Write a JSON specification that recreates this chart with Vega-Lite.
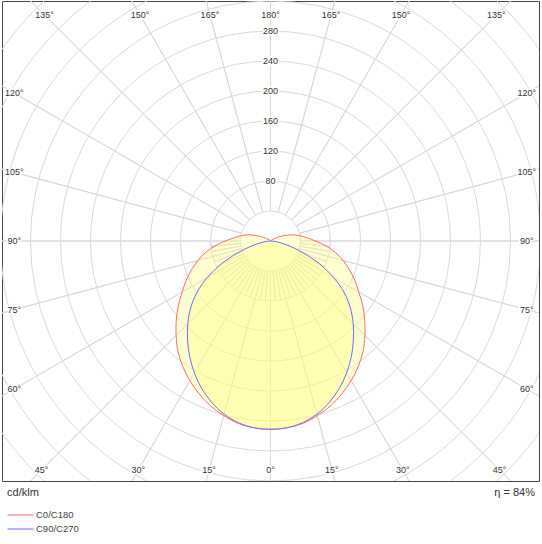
{
  "$schema": "https://vega.github.io/schema/vega-lite/v6.json",
  "width": 537,
  "height": 480,
  "autosize": {"type": "none"},
  "padding": {"left": 2, "top": 1, "right": 3, "bottom": 63},
  "background": "white",
  "config": {
    "view": {"stroke": "#444444", "strokeWidth": 1},
    "text": {"font": "Liberation Sans", "color": "#333333"}
  },
  "datasets": {
    "rings": [
      {"r": 40}, {"r": 80}, {"r": 120}, {"r": 160}, {"r": 200}, {"r": 240},
      {"r": 280}, {"r": 320}, {"r": 360}, {"r": 400}, {"r": 440}, {"r": 480}
    ],
    "spokes": [
      {"a": 0, "r0": 40, "r1": 480},
      {"a": 15, "r0": 40, "r1": 480},
      {"a": 30, "r0": 40, "r1": 480},
      {"a": 45, "r0": 40, "r1": 480},
      {"a": 60, "r0": 40, "r1": 480},
      {"a": 75, "r0": 40, "r1": 480},
      {"a": 90, "r0": 40, "r1": 480}, {"a": 95, "r0": 40, "r1": 80}, {"a": 100, "r0": 40, "r1": 80},
      {"a": 105, "r0": 40, "r1": 480}, {"a": 110, "r0": 40, "r1": 80}, {"a": 115, "r0": 40, "r1": 80},
      {"a": 120, "r0": 40, "r1": 480}, {"a": 125, "r0": 40, "r1": 80}, {"a": 130, "r0": 40, "r1": 80},
      {"a": 135, "r0": 40, "r1": 480}, {"a": 140, "r0": 40, "r1": 80}, {"a": 145, "r0": 40, "r1": 80},
      {"a": 150, "r0": 40, "r1": 480}, {"a": 155, "r0": 40, "r1": 80}, {"a": 160, "r0": 40, "r1": 80},
      {"a": 165, "r0": 40, "r1": 480}, {"a": 170, "r0": 40, "r1": 80}, {"a": 175, "r0": 40, "r1": 80},
      {"a": 180, "r0": 40, "r1": 480}, {"a": 185, "r0": 40, "r1": 80}, {"a": 190, "r0": 40, "r1": 80},
      {"a": 195, "r0": 40, "r1": 480}, {"a": 200, "r0": 40, "r1": 80}, {"a": 205, "r0": 40, "r1": 80},
      {"a": 210, "r0": 40, "r1": 480}, {"a": 215, "r0": 40, "r1": 80}, {"a": 220, "r0": 40, "r1": 80},
      {"a": 225, "r0": 40, "r1": 480}, {"a": 230, "r0": 40, "r1": 80}, {"a": 235, "r0": 40, "r1": 80},
      {"a": 240, "r0": 40, "r1": 480}, {"a": 245, "r0": 40, "r1": 80}, {"a": 250, "r0": 40, "r1": 80},
      {"a": 255, "r0": 40, "r1": 480}, {"a": 260, "r0": 40, "r1": 80}, {"a": 265, "r0": 40, "r1": 80},
      {"a": 270, "r0": 40, "r1": 480},
      {"a": 285, "r0": 40, "r1": 480},
      {"a": 300, "r0": 40, "r1": 480},
      {"a": 315, "r0": 40, "r1": 480},
      {"a": 330, "r0": 40, "r1": 480},
      {"a": 345, "r0": 40, "r1": 480}
    ],
    "ringLabels": [
      {"r": 80, "lbl": "80"}, {"r": 120, "lbl": "120"}, {"r": 160, "lbl": "160"},
      {"r": 200, "lbl": "200"}, {"r": 240, "lbl": "240"}, {"r": 280, "lbl": "280"}
    ],
    "angleLabels": [
      {"lbl": "180°", "ang": 0, "r": 301},
      {"lbl": "165°", "ang": 15, "r": 312}, {"lbl": "165°", "ang": 345, "r": 312},
      {"lbl": "150°", "ang": 30, "r": 348}, {"lbl": "150°", "ang": 330, "r": 348},
      {"lbl": "135°", "ang": 45, "r": 426}, {"lbl": "135°", "ang": 315, "r": 426},
      {"lbl": "120°", "ang": 60, "r": 394.6}, {"lbl": "120°", "ang": 300, "r": 394.6},
      {"lbl": "105°", "ang": 75, "r": 353.8}, {"lbl": "105°", "ang": 285, "r": 353.8},
      {"lbl": "90°", "ang": 90, "r": 341.7}, {"lbl": "90°", "ang": 270, "r": 341.7},
      {"lbl": "75°", "ang": 105, "r": 353.8}, {"lbl": "75°", "ang": 255, "r": 353.8},
      {"lbl": "60°", "ang": 120, "r": 394.6}, {"lbl": "60°", "ang": 240, "r": 394.6},
      {"lbl": "45°", "ang": 135, "r": 431.8}, {"lbl": "45°", "ang": 225, "r": 431.8},
      {"lbl": "30°", "ang": 150, "r": 352.5}, {"lbl": "30°", "ang": 210, "r": 352.5},
      {"lbl": "15°", "ang": 165, "r": 316}, {"lbl": "15°", "ang": 195, "r": 316},
      {"lbl": "0°", "ang": 180, "r": 305}
    ],
    "notes": [
      {"t": "cd/klm", "side": "left"},
      {"t": "η = 84%", "side": "right"}
    ],
    "curves": [
      {"curve": "C0/C180", "a": -135, "x": 0, "y": 0},
      {"curve": "C0/C180", "a": -130, "x": -1.53, "y": 1.29},
      {"curve": "C0/C180", "a": -125, "x": -3.28, "y": 2.29},
      {"curve": "C0/C180", "a": -120, "x": -6.93, "y": 4.0},
      {"curve": "C0/C180", "a": -115, "x": -12.69, "y": 5.92},
      {"curve": "C0/C180", "a": -110, "x": -20.67, "y": 7.52},
      {"curve": "C0/C180", "a": -105, "x": -30.91, "y": 8.28},
      {"curve": "C0/C180", "a": -100, "x": -39.39, "y": 6.95},
      {"curve": "C0/C180", "a": -95, "x": -48.81, "y": 4.27},
      {"curve": "C0/C180", "a": -90, "x": -60, "y": 0},
      {"curve": "C0/C180", "a": -85, "x": -73.72, "y": -6.45},
      {"curve": "C0/C180", "a": -80, "x": -86.66, "y": -15.28},
      {"curve": "C0/C180", "a": -75, "x": -96.59, "y": -25.88},
      {"curve": "C0/C180", "a": -70, "x": -105.25, "y": -38.31},
      {"curve": "C0/C180", "a": -65, "x": -112.38, "y": -52.4},
      {"curve": "C0/C180", "a": -60, "x": -117.78, "y": -68.0},
      {"curve": "C0/C180", "a": -55, "x": -122.87, "y": -86.04},
      {"curve": "C0/C180", "a": -50, "x": -125.63, "y": -105.42},
      {"curve": "C0/C180", "a": -45, "x": -125.87, "y": -125.87},
      {"curve": "C0/C180", "a": -40, "x": -123.42, "y": -147.08},
      {"curve": "C0/C180", "a": -35, "x": -117.01, "y": -167.11},
      {"curve": "C0/C180", "a": -30, "x": -107.5, "y": -186.2},
      {"curve": "C0/C180", "a": -25, "x": -95.09, "y": -203.92},
      {"curve": "C0/C180", "a": -20, "x": -80.03, "y": -219.89},
      {"curve": "C0/C180", "a": -15, "x": -62.38, "y": -232.79},
      {"curve": "C0/C180", "a": -10, "x": -42.89, "y": -243.25},
      {"curve": "C0/C180", "a": -5, "x": -21.79, "y": -249.05},
      {"curve": "C0/C180", "a": 0, "x": 0, "y": -251},
      {"curve": "C0/C180", "a": 5, "x": 21.79, "y": -249.05},
      {"curve": "C0/C180", "a": 10, "x": 42.89, "y": -243.25},
      {"curve": "C0/C180", "a": 15, "x": 62.38, "y": -232.79},
      {"curve": "C0/C180", "a": 20, "x": 80.03, "y": -219.89},
      {"curve": "C0/C180", "a": 25, "x": 95.09, "y": -203.92},
      {"curve": "C0/C180", "a": 30, "x": 107.5, "y": -186.2},
      {"curve": "C0/C180", "a": 35, "x": 117.01, "y": -167.11},
      {"curve": "C0/C180", "a": 40, "x": 123.42, "y": -147.08},
      {"curve": "C0/C180", "a": 45, "x": 125.87, "y": -125.87},
      {"curve": "C0/C180", "a": 50, "x": 125.63, "y": -105.42},
      {"curve": "C0/C180", "a": 55, "x": 122.87, "y": -86.04},
      {"curve": "C0/C180", "a": 60, "x": 117.78, "y": -68.0},
      {"curve": "C0/C180", "a": 65, "x": 112.38, "y": -52.4},
      {"curve": "C0/C180", "a": 70, "x": 105.25, "y": -38.31},
      {"curve": "C0/C180", "a": 75, "x": 96.59, "y": -25.88},
      {"curve": "C0/C180", "a": 80, "x": 86.66, "y": -15.28},
      {"curve": "C0/C180", "a": 85, "x": 73.72, "y": -6.45},
      {"curve": "C0/C180", "a": 90, "x": 60, "y": 0},
      {"curve": "C0/C180", "a": 95, "x": 48.81, "y": 4.27},
      {"curve": "C0/C180", "a": 100, "x": 39.39, "y": 6.95},
      {"curve": "C0/C180", "a": 105, "x": 30.91, "y": 8.28},
      {"curve": "C0/C180", "a": 110, "x": 20.67, "y": 7.52},
      {"curve": "C0/C180", "a": 115, "x": 12.69, "y": 5.92},
      {"curve": "C0/C180", "a": 120, "x": 6.93, "y": 4.0},
      {"curve": "C0/C180", "a": 125, "x": 3.28, "y": 2.29},
      {"curve": "C0/C180", "a": 130, "x": 1.53, "y": 1.29},
      {"curve": "C0/C180", "a": 135, "x": 0, "y": 0},
      {"curve": "C90/C270", "a": -90, "x": 0, "y": 0},
      {"curve": "C90/C270", "a": -85, "x": -4.98, "y": -0.44},
      {"curve": "C90/C270", "a": -80, "x": -12.8, "y": -2.26},
      {"curve": "C90/C270", "a": -75, "x": -26.08, "y": -6.99},
      {"curve": "C90/C270", "a": -70, "x": -44.17, "y": -16.07},
      {"curve": "C90/C270", "a": -65, "x": -65.25, "y": -30.43},
      {"curve": "C90/C270", "a": -60, "x": -84.0, "y": -48.5},
      {"curve": "C90/C270", "a": -55, "x": -98.3, "y": -68.83},
      {"curve": "C90/C270", "a": -50, "x": -106.48, "y": -89.35},
      {"curve": "C90/C270", "a": -45, "x": -110.31, "y": -110.31},
      {"curve": "C90/C270", "a": -40, "x": -110.56, "y": -131.76},
      {"curve": "C90/C270", "a": -35, "x": -107.83, "y": -154.0},
      {"curve": "C90/C270", "a": -30, "x": -101.5, "y": -175.8},
      {"curve": "C90/C270", "a": -25, "x": -91.71, "y": -196.67},
      {"curve": "C90/C270", "a": -20, "x": -78.32, "y": -215.19},
      {"curve": "C90/C270", "a": -15, "x": -61.86, "y": -230.86},
      {"curve": "C90/C270", "a": -10, "x": -42.72, "y": -242.26},
      {"curve": "C90/C270", "a": -5, "x": -21.79, "y": -249.05},
      {"curve": "C90/C270", "a": 0, "x": 0, "y": -251},
      {"curve": "C90/C270", "a": 5, "x": 21.79, "y": -249.05},
      {"curve": "C90/C270", "a": 10, "x": 42.72, "y": -242.26},
      {"curve": "C90/C270", "a": 15, "x": 61.86, "y": -230.86},
      {"curve": "C90/C270", "a": 20, "x": 78.32, "y": -215.19},
      {"curve": "C90/C270", "a": 25, "x": 91.71, "y": -196.67},
      {"curve": "C90/C270", "a": 30, "x": 101.5, "y": -175.8},
      {"curve": "C90/C270", "a": 35, "x": 107.83, "y": -154.0},
      {"curve": "C90/C270", "a": 40, "x": 110.56, "y": -131.76},
      {"curve": "C90/C270", "a": 45, "x": 110.31, "y": -110.31},
      {"curve": "C90/C270", "a": 50, "x": 106.48, "y": -89.35},
      {"curve": "C90/C270", "a": 55, "x": 98.3, "y": -68.83},
      {"curve": "C90/C270", "a": 60, "x": 84.0, "y": -48.5},
      {"curve": "C90/C270", "a": 65, "x": 65.25, "y": -30.43},
      {"curve": "C90/C270", "a": 70, "x": 44.17, "y": -16.07},
      {"curve": "C90/C270", "a": 75, "x": 26.08, "y": -6.99},
      {"curve": "C90/C270", "a": 80, "x": 12.8, "y": -2.26},
      {"curve": "C90/C270", "a": 85, "x": 4.98, "y": -0.44},
      {"curve": "C90/C270", "a": 90, "x": 0, "y": 0}
    ]
  },
  "layer": [
    {
      "data": {"name": "rings"},
      "mark": {"type": "arc", "filled": false, "stroke": "#d9d9d9", "strokeWidth": 1, "theta": 0, "theta2": 6.2832, "clip": true},
      "encoding": {
        "radius": {"field": "r", "type": "quantitative", "stack": null, "scale": {"type": "linear", "domain": [0, 480], "range": [0, 360], "zero": true}}
      }
    },
    {
      "data": {"name": "spokes"},
      "mark": {"type": "arc", "filled": false, "stroke": "#d9d9d9", "strokeWidth": 1, "clip": true},
      "encoding": {
        "theta": {"field": "a", "type": "quantitative", "stack": null, "scale": {"type": "linear", "domain": [0, 360], "range": [0, 6.283185307]}},
        "theta2": {"field": "a"},
        "radius": {"field": "r1", "type": "quantitative", "stack": null, "scale": {"type": "linear", "domain": [0, 480], "range": [0, 360], "zero": true}},
        "radius2": {"field": "r0"}
      }
    },
    {
      "data": {"name": "curves"},
      "mark": {"type": "line", "fill": "#ffff80", "fillOpacity": 0.36, "strokeWidth": 1, "interpolate": "catmull-rom"},
      "encoding": {
        "x": {"field": "x", "type": "quantitative", "scale": {"domain": [-358, 358], "nice": false, "zero": false}, "axis": null},
        "y": {"field": "y", "type": "quantitative", "scale": {"domain": [-320, 320], "nice": false, "zero": false}, "axis": null},
        "order": {"field": "a", "type": "quantitative"},
        "color": {
          "field": "curve", "type": "nominal",
          "scale": {"domain": ["C0/C180", "C90/C270"], "range": ["#ff6b6b", "#6b6bff"]},
          "legend": {
            "orient": "none", "legendX": 11.5, "legendY": 507, "title": null,
            "symbolType": "M-2,0H2", "symbolSize": 169, "symbolStrokeWidth": 1,
            "labelFont": "Liberation Sans", "labelFontSize": 9.5, "labelColor": "#444444",
            "labelOffset": 8.5, "rowPadding": 2, "padding": 0
          }
        }
      }
    },
    {
      "data": {"name": "ringLabels"},
      "mark": {"type": "text", "fontSize": 9, "stroke": "white", "strokeWidth": 3, "fill": "white"},
      "encoding": {
        "theta": {"datum": 0, "type": "quantitative", "stack": null, "scale": {"type": "linear", "domain": [0, 360], "range": [0, 6.283185307]}},
        "radius": {"field": "r", "type": "quantitative", "stack": null, "scale": {"type": "linear", "domain": [0, 480], "range": [0, 360], "zero": true}},
        "text": {"field": "lbl"}
      }
    },
    {
      "data": {"name": "ringLabels"},
      "mark": {"type": "text", "fontSize": 9, "color": "#333333"},
      "encoding": {
        "theta": {"datum": 0, "type": "quantitative", "stack": null, "scale": {"type": "linear", "domain": [0, 360], "range": [0, 6.283185307]}},
        "radius": {"field": "r", "type": "quantitative", "stack": null, "scale": {"type": "linear", "domain": [0, 480], "range": [0, 360], "zero": true}},
        "text": {"field": "lbl"}
      }
    },
    {
      "data": {"name": "angleLabels"},
      "mark": {"type": "text", "fontSize": 9, "stroke": "white", "strokeWidth": 3, "fill": "white"},
      "encoding": {
        "theta": {"field": "ang", "type": "quantitative", "stack": null, "scale": {"type": "linear", "domain": [0, 360], "range": [0, 6.283185307]}},
        "radius": {"field": "r", "type": "quantitative", "stack": null, "scale": {"type": "linear", "domain": [0, 480], "range": [0, 360], "zero": true}},
        "text": {"field": "lbl"}
      }
    },
    {
      "data": {"name": "angleLabels"},
      "mark": {"type": "text", "fontSize": 9, "color": "#333333"},
      "encoding": {
        "theta": {"field": "ang", "type": "quantitative", "stack": null, "scale": {"type": "linear", "domain": [0, 360], "range": [0, 6.283185307]}},
        "radius": {"field": "r", "type": "quantitative", "stack": null, "scale": {"type": "linear", "domain": [0, 480], "range": [0, 360], "zero": true}},
        "text": {"field": "lbl"}
      }
    },
    {
      "data": {"name": "notes"},
      "transform": [{"filter": "datum.side == 'left'"}],
      "mark": {"type": "text", "fontSize": 11, "align": "left", "baseline": "middle", "color": "#333333"},
      "encoding": {
        "x": {"datum": -351.3, "type": "quantitative", "scale": {"domain": [-358, 358], "nice": false, "zero": false}},
        "y": {"datum": -336, "type": "quantitative", "scale": {"domain": [-320, 320], "nice": false, "zero": false}},
        "text": {"field": "t"}
      }
    },
    {
      "data": {"name": "notes"},
      "transform": [{"filter": "datum.side == 'right'"}],
      "mark": {"type": "text", "fontSize": 11, "align": "right", "baseline": "middle", "color": "#333333"},
      "encoding": {
        "x": {"datum": 352.7, "type": "quantitative", "scale": {"domain": [-358, 358], "nice": false, "zero": false}},
        "y": {"datum": -336, "type": "quantitative", "scale": {"domain": [-320, 320], "nice": false, "zero": false}},
        "text": {"field": "t"}
      }
    }
  ]
}
